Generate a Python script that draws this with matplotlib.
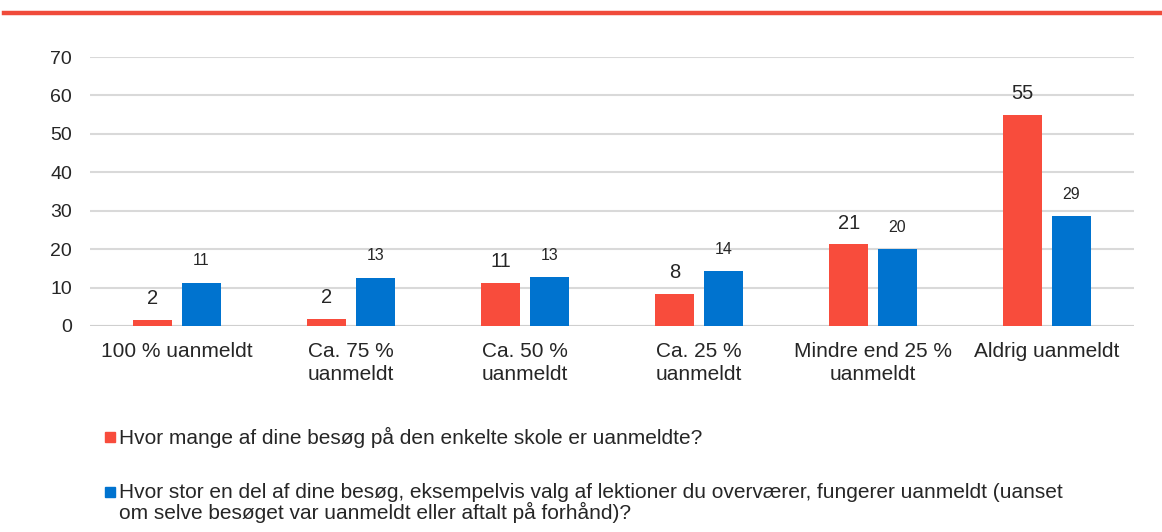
import numpy as np
import matplotlib.pyplot as plt
from matplotlib.patches import Rectangle
from matplotlib.lines import Line2D

plt.rcParams['font.family'] = ['Liberation Sans', 'DejaVu Sans']

categories = ['100 % uanmeldt', 'Ca. 75 %\nuanmeldt', 'Ca. 50 %\nuanmeldt',
              'Ca. 25 %\nuanmeldt', 'Mindre end 25 %\nuanmeldt', 'Aldrig uanmeldt']
red_vals = [1.6, 1.9, 11.2, 8.3, 21.3, 55.0]
blue_vals = [11.3, 12.6, 12.7, 14.3, 20.0, 28.6]
red_labels = ['2', '2', '11', '8', '21', '55']
blue_labels = ['11', '13', '13', '14', '20', '29']
legend_lines = [['Hvor mange af dine besøg på den enkelte skole er uanmeldte?'],
                ['Hvor stor en del af dine besøg, eksempelvis valg af lektioner du overværer, fungerer uanmeldt (uanset',
                 'om selve besøget var uanmeldt eller aftalt på forhånd)?']]

RED = '#F84C3C'
BLUE = '#0073CF'
TXT = '#262626'

fig = plt.figure(figsize=(11.62, 5.32), dpi=100)
W, H = 1162, 532

# red rule at the top
fig.add_artist(Line2D([4 / W, 1.0], [1 - 13 / H, 1 - 13 / H], color='#F04B3B', lw=3.2))

ax = fig.add_axes([90 / W, 1 - 326 / H, (1134 - 90) / W, (326 - 57) / H])
x = np.arange(len(categories))
bw = 0.224
off = 0.14
ax.bar(x - off, red_vals, bw, color=RED, zorder=3)
ax.bar(x + off, blue_vals, bw, color=BLUE, zorder=3)

# value labels (px -> data: 38.4 px per 10)
for i in range(len(x)):
    ax.text(x[i] - off, red_vals[i] + 5.5, red_labels[i], ha='center', va='center',
            fontsize=14.5, color=TXT)
    ax.text(x[i] + off, blue_vals[i] + 5.7, blue_labels[i], ha='center', va='center',
            fontsize=11.5, color=TXT)

ax.set_xlim(-0.5, len(x) - 0.5)
ax.set_ylim(0, 70)
ax.set_yticks(range(0, 71, 10))
ax.yaxis.grid(True, color='#d9d9d9', lw=1.5, zorder=0)
ax.set_axisbelow(True)
for s in ['top', 'right', 'left', 'bottom']:
    ax.spines[s].set_visible(False)
ax.axhline(0, color='#cfcfcf', lw=1.5, zorder=1)
ax.tick_params(axis='y', length=0, pad=13, labelsize=14, labelcolor=TXT)
ax.tick_params(axis='x', length=0, pad=11.5, labelsize=15, labelcolor=TXT)
ax.set_xticks(x)
ax.set_xticklabels(categories, linespacing=1.3)

# legend below
for col, lines, ytop in [(RED, legend_lines[0], 437), (BLUE, legend_lines[1], 492)]:
    fig.add_artist(Rectangle((105 / W, 1 - (ytop + 5) / H), 10 / W, 10 / H,
                             transform=fig.transFigure, color=col))
    for k, line in enumerate(lines):
        fig.text(119 / W, 1 - (ytop + 20 * k) / H, line, fontsize=15, color=TXT,
                 va='center', ha='left')

fig.savefig('out.png', dpi=100)
